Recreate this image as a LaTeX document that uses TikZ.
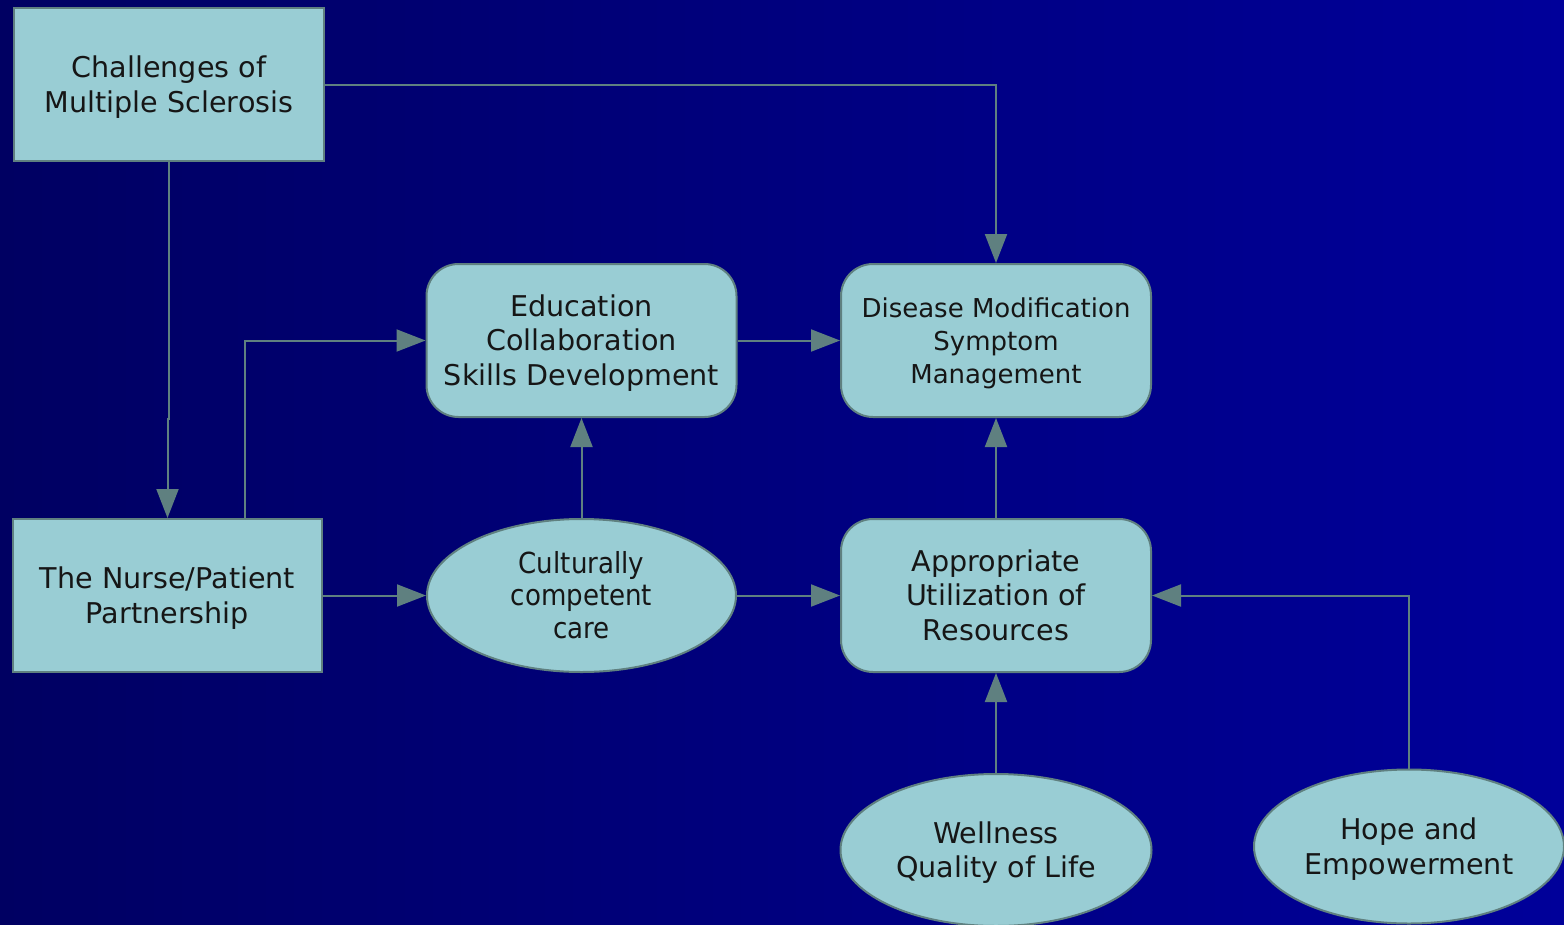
\documentclass[tikz,border=0pt]{standalone}
\usepackage{fontspec}
\setmainfont{DejaVu Sans}
\newfontfamily\narrowfont[FakeStretch=0.9]{DejaVu Sans}
\usetikzlibrary{shapes.geometric,arrows.meta}
\definecolor{bgleft}{HTML}{000062}
\definecolor{bgright}{HTML}{00009A}
\definecolor{boxfill}{HTML}{99CDD4}
\definecolor{edgecol}{HTML}{5F8080}
\definecolor{ink}{HTML}{161616}
% centred stack of lines, set a little lower than the box centre
\newcommand\boxtext[1]{\raisebox{-3.5pt}[\height][\depth]{\begin{tabular}{@{}c@{}}#1\end{tabular}}}
\tikzset{
  base/.style={draw=edgecol, line width=2pt, fill=boxfill, text=ink,
    inner sep=0pt, minimum width=310pt, minimum height=153pt,
    font=\fontsize{28.6}{34.4}\selectfont},
  sqbox/.style={base, rectangle},
  rndbox/.style={base, rectangle, rounded corners=32pt},
  oval/.style={base, ellipse},
  link/.style={draw=edgecol, line width=2pt, -{Triangle[length=29pt,width=22pt]}},
}
\begin{document}
\begin{tikzpicture}[x=1pt,y=-1pt]
  % background
  \useasboundingbox (0,0) rectangle (1564,924);
  \shade[left color=bgleft, right color=bgright] (0,0) rectangle (1564,924);

  % nodes
  \node[sqbox] (chal) at (169,84.5) {\boxtext{Challenges of\\Multiple Sclerosis}};
  \node[rndbox] (edu) at (581.5,340.5) {\boxtext{Education\\Collaboration\\Skills Development}};
  \node[rndbox, font=\fontsize{26}{33}\selectfont] (dis) at (996,340.5)
    {\boxtext{Disease Modification\\Symptom\\Management}};
  \node[sqbox, minimum width=309pt] (nurse) at (167.5,595.5) {\boxtext{The Nurse/Patient\\Partnership}};
  \node[oval, minimum width=309pt, font=\narrowfont\fontsize{29}{32.5}\selectfont] (cult) at (581.5,595.5)
    {\boxtext{Culturally\\competent\\care}};
  \node[rndbox] (res) at (996,595.5) {\boxtext{Appropriate\\Utilization of\\Resources}};
  \node[oval, minimum width=311pt, minimum height=152pt] (well) at (996,850) {\boxtext{Wellness\\Quality of Life}};
  \node[oval, minimum width=310pt, minimum height=154pt] (hope) at (1409,846.5) {\boxtext{Hope and\\Empowerment}};

  % connectors
  \draw[link] (chal.east) -| (dis.north);
  \draw[link] (chal.south) -- ++(0,257) -| (nurse.north);
  \draw[link] (nurse.north -| 245,0) |- (edu.west);
  \draw[link] (nurse.east) -- (cult.west);
  \draw[link] (cult.north) -- (edu.south);
  \draw[link] (edu.east) -- (dis.west);
  \draw[link] (cult.east) -- (res.west);
  \draw[link] (res.north) -- (dis.south);
  \draw[link] (well.north) -- (res.south);
  \draw[link] (hope.north) |- (res.east);
\end{tikzpicture}
\end{document}
